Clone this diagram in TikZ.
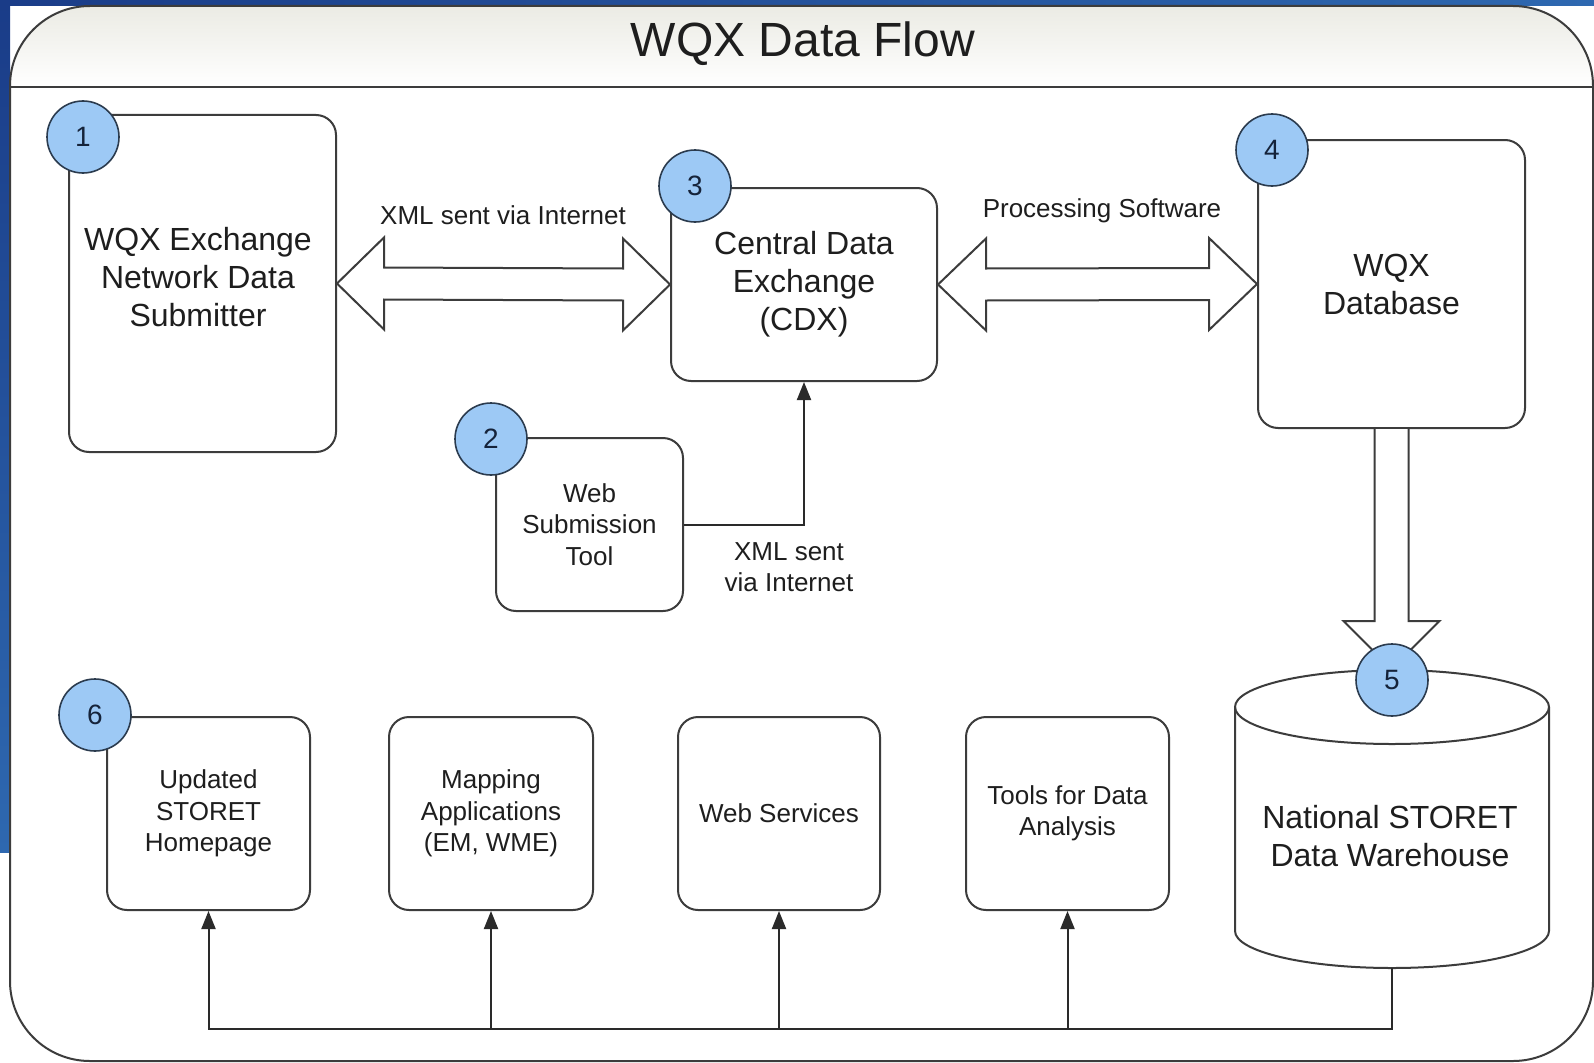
\documentclass[tikz,border=0pt]{standalone}
\usepackage{fontspec}
\setmainfont{Liberation Sans}
\usetikzlibrary{arrows.meta,calc}
\definecolor{boxline}{HTML}{3C3C3C}
\definecolor{connline}{HTML}{2A2A2A}
\definecolor{txt}{HTML}{1E1E1E}
\definecolor{numfill}{HTML}{9DC9F5}
\definecolor{numline}{HTML}{2B3B4E}
\definecolor{numtxt}{HTML}{15233A}
\definecolor{blueA}{HTML}{1A3C88}
\definecolor{blueB}{HTML}{2E68B0}
\definecolor{headtop}{HTML}{EBEBE4}
\begin{document}
\begin{tikzpicture}[x=1pt,y=-1pt,
  box/.style={draw=boxline, line width=2pt, rounded corners=20pt, fill=white, inner sep=0pt, align=center, text=txt},
  num/.style={circle, draw=numline, line width=1.6pt, fill=numfill, minimum size=72pt, inner sep=0pt, font=\fontsize{28}{30}\selectfont, text=numtxt},
  big/.style={font=\fontsize{32}{38}\selectfont},
  small/.style={font=\fontsize{26}{31.5}\selectfont},
  lbl/.style={font=\fontsize{26}{31}\selectfont, text=txt, align=center},
  fat/.style={draw=boxline, line width=2pt, fill=white, line join=miter},
  conn/.style={draw=connline, line width=2pt, -{Triangle[length=18pt,width=14pt]}}]
\useasboundingbox (0,0) rectangle (1594,1062);
% background frame
\fill[white] (0,0) rectangle (1594,1062);
\shade[left color=blueA, right color=blueB] (0,0) rectangle (1594,6);
\shade[top color=blueA, bottom color=blueB] (0,0) rectangle (10,852);
% panel
\path[fill=white] (10,1061) [rounded corners=80pt] -- (10,6) -- (1593,6) -- (1593,1061) [sharp corners]-- cycle;
\begin{scope}
  \clip (10,1061) [rounded corners=80pt] -- (10,6) -- (1593,6) -- (1593,1061) [sharp corners]-- cycle;
  \shade[top color=headtop, bottom color=white] (10,6) rectangle (1593,87);
\end{scope}
\draw[draw=boxline, line width=2pt, rounded corners=80pt] (10,6) rectangle (1593,1061);
\draw[draw=boxline, line width=2pt] (10,87) -- (1593,87);
\node[font=\fontsize{48}{52}\selectfont, text=txt] (title) at (803,44) {WQX Data Flow};

% boxes
\node[box, minimum width=267pt, minimum height=337pt] (b1) at (202.5,283.5) {};
\node[big, text=txt, align=center] (t1) at (198,277) {WQX Exchange\\Network Data\\Submitter};
\node[box, big, minimum width=266pt, minimum height=193pt] (b3) at (804,284.5) {Central Data\\Exchange\\(CDX)};
\node[box, big, minimum width=267pt, minimum height=288pt] (b4) at (1391.5,284) {WQX\\Database};
\node[box, small, minimum width=187pt, minimum height=173pt] (b2) at (589.5,524.5) {Web\\Submission\\Tool};

\node[box, small, minimum width=203pt, minimum height=193pt] (b6) at (208.5,813.5) {Updated\\STORET\\Homepage};
\node[box, small, minimum width=204pt, minimum height=193pt] (b7) at (491,813.5) {Mapping\\Applications\\(EM, WME)};
\node[box, small, minimum width=202pt, minimum height=193pt] (b8) at (779,813.5) {Web Services};
\node[box, small, minimum width=203pt, minimum height=193pt] (b9) at (1067.5,813.5) {Tools for Data\\Analysis};

% fat double arrows
\draw[fat] (b1.east) -- ++(47,-46) -- ++(0,30) -- ($(b3.west)+(-47,-16)$) -- ++(0,-30) -- (b3.west)
  -- ++(-47,46) -- ++(0,-30) -- ($(b1.east)+(47,16)$) -- ++(0,30) -- cycle;
\draw[fat] (b3.east) -- ++(48,-46) -- ++(0,30) -- ($(b4.west)+(-48,-16)$) -- ++(0,-30) -- (b4.west)
  -- ++(-48,46) -- ++(0,-30) -- ($(b3.east)+(48,16)$) -- ++(0,30) -- cycle;
\node[lbl] (l1) at (503,215) {XML sent via Internet};
\node[lbl] (l2) at (1102,211) {Processing Software};

% fat down arrow
\draw[fat] ($(b4.south)+(-17,0)$) -- ++(0,192) -- ++(-31,0) -- ($(b4.south)+(0,240)$) -- ++(48,-48) -- ++(-31,0) -- ($(b4.south)+(17,0)$);

% cylinder
\coordinate (cyltop) at (1392,707);
\coordinate (cylbot) at (1392,968);
\draw[draw=boxline, line width=2pt, fill=white] (1235,707) -- (1235,931) arc[start angle=180, end angle=360, x radius=157pt, y radius=37pt] -- (1549,707) arc[start angle=0, end angle=180, x radius=157pt, y radius=37pt] -- cycle;
\draw[draw=boxline, line width=2pt] (1235,707) arc[start angle=180, end angle=360, x radius=157pt, y radius=37pt];
\node[big, text=txt, align=center] (cyl) at (1390,836) {National STORET\\Data Warehouse};

% thin connectors
\draw[conn] (b2.east) -| (b3.south);
\node[lbl] (l3) at (789,567) {XML sent\\via Internet};
\coordinate (bus) at (1392,1029);
\draw[conn] (cylbot) -- (bus) -| (b6.south);
\draw[conn] (b7.south |- bus) -- (b7.south);
\draw[conn] (b8.south |- bus) -- (b8.south);
\draw[conn] (b9.south |- bus) -- (b9.south);

% number badges
\node[num] (n1) at (83,137) {1};
\node[num] (n2) at (491,439) {2};
\node[num] (n3) at (695,186) {3};
\node[num] (n4) at (1272,150) {4};
\node[num] (n5) at (1392,680) {5};
\node[num] (n6) at (95,715) {6};
\end{tikzpicture}
\end{document}
